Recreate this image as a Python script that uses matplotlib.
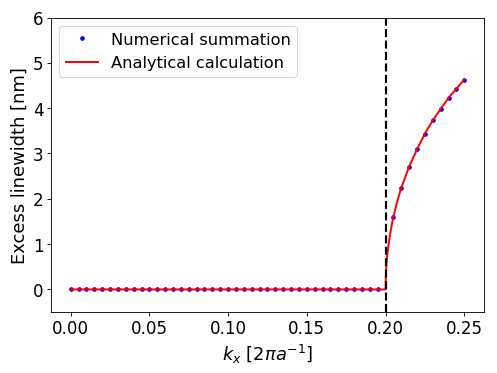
import numpy as np
import matplotlib
matplotlib.use("Agg")
from matplotlib import pyplot as plt

# Numerical summation points (step 0.005, none at kx = 0.2)
kx_num = np.round(np.arange(51) * 0.005, 3)
lw_num_flat = [0.0] * 40  # kx = 0.000 ... 0.195
lw_num_rise = [1.60, 2.24, 2.71, 3.09, 3.44, 3.73, 3.98, 4.23, 4.43, 4.63]  # kx = 0.205 ... 0.250
lw_num = np.array(lw_num_flat + [np.nan] + lw_num_rise)

# Analytical curve
kx_ana = [0.0, 0.2, 0.2002, 0.2005, 0.201, 0.202, 0.203, 0.204, 0.205, 0.2075, 0.21,
          0.215, 0.22, 0.225, 0.23, 0.235, 0.24, 0.245, 0.25]
lw_ana = [0.0, 0.0, 0.32, 0.50, 0.72, 1.01, 1.24, 1.43, 1.60, 1.95, 2.24,
          2.71, 3.09, 3.44, 3.73, 3.98, 4.23, 4.43, 4.63]

k_cut = 0.2

plt.rcParams["font.size"] = 15.5

fig = plt.figure(figsize=(6.4, 4.8), dpi=77.8)
ax = fig.add_axes([51 / 498, 1 - 313 / 374, 433 / 498, 295 / 374])

ax.plot(kx_num, lw_num, "b.", markersize=6.5, label="Numerical summation")
ax.plot(kx_ana, lw_ana, "r-", linewidth=1.8, label="Analytical calculation")
ax.axvline(k_cut, color="k", linestyle="--", linewidth=2)

ax.set_ylim(-0.5, 6)
ax.set_xticks([0.0, 0.05, 0.10, 0.15, 0.20, 0.25])
ax.set_xlabel(r"$k_x$ [$2\pi a^{-1}$]", fontsize=16.5)
ax.set_ylabel("Excess linewidth [nm]", fontsize=16.5)
ax.legend(loc="upper left", fontsize=15)

fig.savefig("out.png")
